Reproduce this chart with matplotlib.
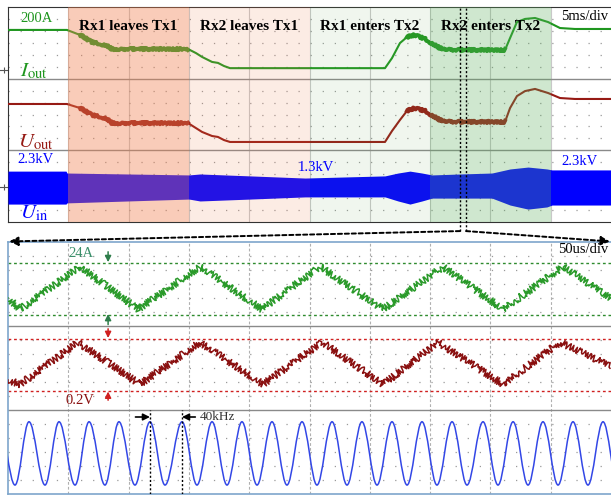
import numpy as np
import matplotlib.pyplot as plt
from matplotlib.path import Path
from matplotlib.patches import PathPatch, ConnectionPatch

plt.rcParams['font.family'] = 'Liberation Serif'
plt.rcParams['mathtext.fontset'] = 'stix'
plt.rcParams['lines.scale_dashes'] = False

# ---------- top record: 5 ms/div, traces in screen divisions ----------
t_ms = np.array([0, 4.89, 5.97, 6.97, 7.63, 8.13, 8.62, 14.93, 15.59, 16.09, 16.92,
                 17.41, 17.91, 18.41, 31.26, 31.84, 32.5, 33.08, 33.75, 34.58, 35.82,
                 37.06, 41.21, 41.63, 42.2, 42.87, 43.7, 44.78, 45.77, 47.01, 50])
i_out = np.array([8.04, 8.04, 7.83, 7.53, 7.45, 7.41, 7.24, 7.24, 7.07, 6.91, 6.70,
                  6.66, 6.53, 6.44, 6.44, 6.86, 7.49, 7.74, 7.83, 7.66, 7.28,
                  7.20, 7.20, 7.70, 8.37, 8.50, 8.54, 8.37, 8.12, 8.08, 8.08])
u_out = np.array([4.94, 4.94, 4.77, 4.48, 4.40, 4.35, 4.14, 4.14, 3.93, 3.77, 3.60,
                  3.56, 3.43, 3.35, 3.35, 3.81, 4.27, 4.65, 4.77, 4.65, 4.27,
                  4.19, 4.19, 4.77, 5.27, 5.48, 5.57, 5.40, 5.19, 5.15, 5.15])

# Uin envelope (40 kHz carrier is too dense to see -> filled band)
t_env = np.array([0, 4.81, 4.89, 9.95, 15.01, 15.92, 20.07, 24.63, 31.26, 32.34,
                  33.33, 34.33, 35.16, 37.48, 40.13, 41.63, 43.12, 44.69, 45.11, 50])
uin_hi = np.array([2.13, 2.13, 2.05, 2.01, 1.97, 2.01, 1.93, 1.84, 1.93, 2.05,
                   2.13, 2.05, 1.97, 2.01, 2.05, 2.22, 2.30, 2.22, 2.18, 2.18])
uin_lo = np.array([0.75, 0.75, 0.80, 0.88, 0.96, 0.88, 0.96, 1.05, 1.05, 0.88,
                   0.75, 0.88, 1.00, 1.00, 1.00, 0.71, 0.54, 0.63, 0.71, 0.71])

phases = ["Rx1 leaves Tx1", "Rx2 leaves Tx1", "Rx1 enters Tx2", "Rx2 enters Tx2"]
phase_start = [5, 15, 25, 35]
phase_end = [15, 25, 35, 45]
phase_col = ['#f08050', '#f08050', '#70b060', '#60b060']
phase_alpha = [0.4, 0.15, 0.1, 0.3]
noisy = [(5.5, 15.5), (33.0, 41.5)]
zoom_ms = [37.48, 37.98]
ground_marks = [6.36, 1.46]

# ---------- zoomed record: 50 us/div ----------
tri_i_t = np.array([0, 10, 59.7, 107.8, 159.2, 210.6, 258.7, 311, 360.7, 410.4, 460.2, 500])
tri_i_v = np.array([7.0, 6.6, 8.12, 6.6, 8.12, 6.6, 8.12, 6.6, 8.12, 6.6, 8.12, 7.0])
tri_u_t = np.array([0, 10, 58, 109.4, 159.2, 211.4, 260.4, 311, 356.6, 410.4, 457.7, 500])
tri_u_v = np.array([4.07, 3.92, 5.42, 3.92, 5.42, 3.92, 5.42, 3.92, 5.42, 3.92, 5.42, 4.57])
sine_peaks = [-7.5, 17.4, 42.3, 67.2, 92.0, 117.7, 144.3, 169.2, 194.0, 218.9, 243.8,
              268.7, 293.5, 318.4, 343.3, 368.2, 393.9, 418.8, 443.6, 468.5, 493.4]
sine_troughs = [5.8, 30.7, 55.6, 80.4, 105.3, 130.2, 156.7, 181.6, 206.5, 231.3, 256.2,
                281.1, 306.0, 330.9, 355.7, 380.6, 406.3, 431.2, 456.1, 480.9, 505.8]
sine_hi, sine_lo = 2.58, 0.32
period_marks = [117.7, 144.3]

GREEN = '#1f961f'
RED = '#961a14'
BLUE = '#0000ff'

fig = plt.figure(figsize=(6.11, 4.95), dpi=100)
W, H = 611, 495
ax1 = fig.add_axes([8 / W, 1 - 222 / H, 603 / W, 215 / H])
ax2 = fig.add_axes([8 / W, 1 - 494 / H, 603 / W, 252 / H])


def scope_grid(ax, xmax, sub, vstyle, vcol):
    ax.set_xlim(0, xmax)
    ax.set_ylim(0, 9)
    ax.set_xticks([])
    ax.set_yticks([])
    for k in range(1, 10):
        ax.axvline(xmax / 10 * k, color=vcol, lw=0.8, ls=vstyle, zorder=0)
    for y in np.arange(sub, 9, sub):
        if abs(y - 3) < 1e-6 or abs(y - 6) < 1e-6:
            continue
        ax.axhline(y, color='#9a9a9a', lw=0.9, ls=(0, (0.9, 7.8)), zorder=0)
    for y in (3, 6):
        ax.axhline(y, color='#8a8a8a', lw=1.0, zorder=1)
    ax.spines['right'].set_visible(False)


def small_arrow(ax, x0, y0, x1, y1, c, lw=1.1, ms=9):
    ax.annotate('', xy=(x1, y1), xytext=(x0, y0),
                arrowprops=dict(arrowstyle='-|>', color=c, lw=lw, mutation_scale=ms,
                                shrinkA=0, shrinkB=0))


# ---- top panel ----
scope_grid(ax1, 50, 0.5, '-', '#c8c8c8')
for s in ('left', 'top', 'bottom'):
    ax1.spines[s].set_color('#333333')

ax1.plot(t_ms, i_out, color=GREEN, lw=1.5, zorder=3)
ax1.plot(t_ms, u_out, color=RED, lw=1.5, zorder=3)
for a, b in noisy:
    m = (t_ms >= a) & (t_ms <= b)
    for yy, c in ((i_out, GREEN), (u_out, RED)):
        ln, = ax1.plot(t_ms[m], yy[m], color=c, lw=2.8, zorder=3)
        ln.set_sketch_params(scale=1.2, length=1.5, randomness=2)
ax1.fill_between(t_env, uin_lo, uin_hi, color=BLUE, lw=0, zorder=3)

for name, a, b, c, al in zip(phases, phase_start, phase_end, phase_col, phase_alpha):
    ax1.axvspan(a, b, color=c, alpha=al, lw=0, zorder=4)
    ax1.text((a + b) / 2, 8.2, name, ha='center', va='center', fontsize=11,
             fontweight='bold', zorder=6)

for xv in zoom_ms:
    ax1.axvline(xv, ymin=-0.042, ymax=1, color='black', lw=1.0, ls=(0, (1.5, 1.5)),
                clip_on=False, zorder=5)

# channel ground markers left of the screen
for gy in ground_marks:
    ax1.plot([-0.65, 0], [gy, gy], color='#555555', lw=0.8, clip_on=False)
    ax1.plot([-0.35], [gy], marker='|', ms=4, color='#555555', mew=0.8, clip_on=False)

ax1.text(1.0, 8.5, '200A', color=GREEN, fontsize=10.5, va='center', zorder=6)
ax1.text(1.0, 6.3, r'$I_{\mathrm{out}}$', color=GREEN, fontsize=15, va='center', zorder=6)
ax1.text(0.8, 3.35, r'$U_{\mathrm{out}}$', color=RED, fontsize=15, va='center', zorder=6)
ax1.text(0.8, 2.62, '2.3kV', color=BLUE, fontsize=10.5, va='center', zorder=6)
ax1.text(1.0, 0.35, r'$U_{\mathrm{in}}$', color=BLUE, fontsize=15, va='center', zorder=6)
ax1.text(25.5, 2.3, '1.3kV', color=BLUE, fontsize=10.5, ha='center', va='center', zorder=6)
ax1.text(47.4, 2.55, '2.3kV', color=BLUE, fontsize=10.5, ha='center', va='center', zorder=6)
ax1.text(49.8, 8.62, '5ms/div', fontsize=10.5, ha='right', va='center', zorder=6)

# ---- bottom panel ----
scope_grid(ax2, 500, 0.5, (0, (2, 1.5)), '#b0b0b0')
for s in ('left', 'top', 'bottom'):
    ax2.spines[s].set_color('#7ea6cc')
    ax2.spines[s].set_linewidth(1.2)

for lv in (8.25, 6.39):
    ax2.axhline(lv, color='#2e8b2e', lw=1.0, ls=(0, (2, 2)), zorder=2)
for lv in (5.54, 3.68):
    ax2.axhline(lv, color='#d02020', lw=1.0, ls=(0, (2, 2)), zorder=2)

for tt, vv, c in ((tri_i_t, tri_i_v, '#2a9a2a'), (tri_u_t, tri_u_v, '#8a1010')):
    ln, = ax2.plot(tt, vv, color=c, lw=1.1, zorder=3)
    ln.set_sketch_params(scale=3.5, length=2.0, randomness=3)

# 40 kHz input: cubic segments between the read extrema
ext = sorted([(t, sine_hi) for t in sine_peaks] + [(t, sine_lo) for t in sine_troughs])
k = 0.3634
verts = [ext[0]]
codes = [Path.MOVETO]
for (t0, v0), (t1, v1) in zip(ext[:-1], ext[1:]):
    h = t1 - t0
    verts += [(t0 + k * h, v0), (t1 - k * h, v1), (t1, v1)]
    codes += [Path.CURVE4] * 3
ax2.add_patch(PathPatch(Path(verts, codes), fill=False, edgecolor='#3347e6', lw=1.1, zorder=3))

for xv in period_marks:
    ax2.plot([xv, xv], [0, 3], color='black', lw=1.0, ls=(0, (1.5, 1.5)), zorder=4)
small_arrow(ax2, period_marks[0] - 12, 2.75, period_marks[0], 2.75, 'black', 1.2, 10)
small_arrow(ax2, period_marks[1] + 11, 2.75, period_marks[1], 2.75, 'black', 1.2, 10)
ax2.text(159, 2.75, '40kHz', fontsize=9.5, color='#333333', va='center')

small_arrow(ax2, 83, 8.65, 83, 8.28, '#2e7d4a')
small_arrow(ax2, 83, 6.05, 83, 6.43, '#2e7d4a')
small_arrow(ax2, 83, 5.9, 83, 5.57, '#d02020')
small_arrow(ax2, 83, 3.35, 83, 3.66, '#d02020')

ax2.text(50, 8.6, '24A', color='#3a8f6a', fontsize=10.5, va='center')
ax2.text(48, 3.33, '0.2V', color='#8a1010', fontsize=10.5, va='center')
ax2.text(498, 8.75, '50us/div', fontsize=10.5, ha='right', va='center')

# dashed zoom connectors
for xa, xb in ((zoom_ms[0], 1), (zoom_ms[1], 499)):
    cp = ConnectionPatch(xyA=(xa, -0.38), coordsA=ax1.transData,
                         xyB=(xb, 9.02), coordsB=ax2.transData,
                         arrowstyle='-|>', mutation_scale=13, color='black',
                         lw=1.4, ls=(0, (3, 2)))
    fig.add_artist(cp)

fig.savefig('out.png', dpi=100)
